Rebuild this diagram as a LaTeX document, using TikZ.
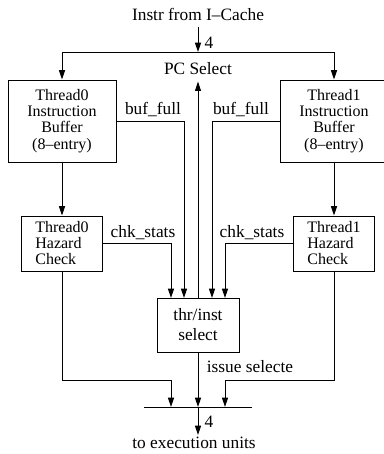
\documentclass[tikz,border=0pt]{standalone}
\usepackage{fontspec}
\setmainfont{Liberation Serif}
\usetikzlibrary{arrows.meta}

\begin{document}
\begin{tikzpicture}[x=0.75pt, y=-0.75pt, line width=0.7pt,
        font=\fontsize{13}{13}\selectfont,
        arr/.style={-{Triangle[length=7pt,width=4.5pt]}},
        box/.style={draw, align=center, font=\fontsize{12}{12}\selectfont, inner ysep=1pt},
        lbl/.style={inner ysep=4.5pt}]
        \useasboundingbox (0,0) rectangle (384,454);

        \node[lbl] at (198, 14)      (src)   {Instr from I--Cache};
        \node at (209, 43)           (w4in)  {4};
        \node[lbl] at (198, 69)      (pcsel) {PC Select};
        \node[box, minimum width=81pt, minimum height=61.5pt] at (62, 121)  (t0buf) {Thread0\\Instruction\\Buffer\\[1pt](8--entry)};
        \node[box, minimum width=81pt, minimum height=61.5pt] at (334, 121) (t1buf) {Thread1\\Instruction\\Buffer\\[1pt](8--entry)};
        \node[box, align=left, minimum width=60.75pt, minimum height=41.25pt] at (62, 243.5)  (t0haz) {Thread0\\Hazard\\Check};
        \node[box, align=left, minimum width=60.75pt, minimum height=41.25pt] at (334, 243.5) (t1haz) {Thread1\\Hazard\\Check};
        \node[box, font=\fontsize{13}{13}\selectfont, minimum width=61.5pt, minimum height=40.5pt] at (198, 325) (sel) {thr/inst\\[2pt]select};
        \node at (153, 110)          (bf0)   {buf\_full};
        \node at (241, 110)          (bf1)   {buf\_full};
        \node at (143, 233)          (cs0)   {chk\_stats};
        \node at (252, 233)          (cs1)   {chk\_stats};
        \node at (250, 367)          (iss)   {issue selecte};
        \node at (209, 422)          (w4out) {4};
        \node at (194, 443)          (exe)   {to execution units};

        \coordinate (split) at (198, 52);
        \coordinate (in1) at (171, 298);
        \coordinate (in2) at (184, 298);
        \coordinate (in4) at (212, 298);
        \coordinate (in5) at (225, 298);
        \coordinate (barw) at (144, 407);
        \coordinate (bare) at (252, 407);
        \coordinate (out1) at (171, 407);
        \coordinate (out2) at (198, 407);
        \coordinate (out3) at (225, 407);
        \coordinate (end) at (198, 435);

        \draw[arr] (src) -- (split);
        \draw[arr] (split) -| (t0buf.north);
        \draw[arr] (split) -| (t1buf.north);
        \draw[arr] (sel.north) -- (pcsel.south);
        \draw[arr] (t0buf.south) -- (t0haz.north);
        \draw[arr] (t1buf.south) -- (t1haz.north);
        \draw[arr] (t0buf.east) -| (in2);
        \draw[arr] (t1buf.west) -| (in4);
        \draw[arr] (t0haz.east) -| (in1);
        \draw[arr] (t1haz.west) -| (in5);
        \draw[arr] (t0haz.south) -- ++(0, 109) -| (out1);
        \draw[arr] (t1haz.south) -- ++(0, 109) -| (out3);
        \draw[arr] (sel.south) -- (out2);
        \draw[arr] (out2) -- (end);
        \draw (barw) -- (bare);
    \end{tikzpicture}
\end{document}
